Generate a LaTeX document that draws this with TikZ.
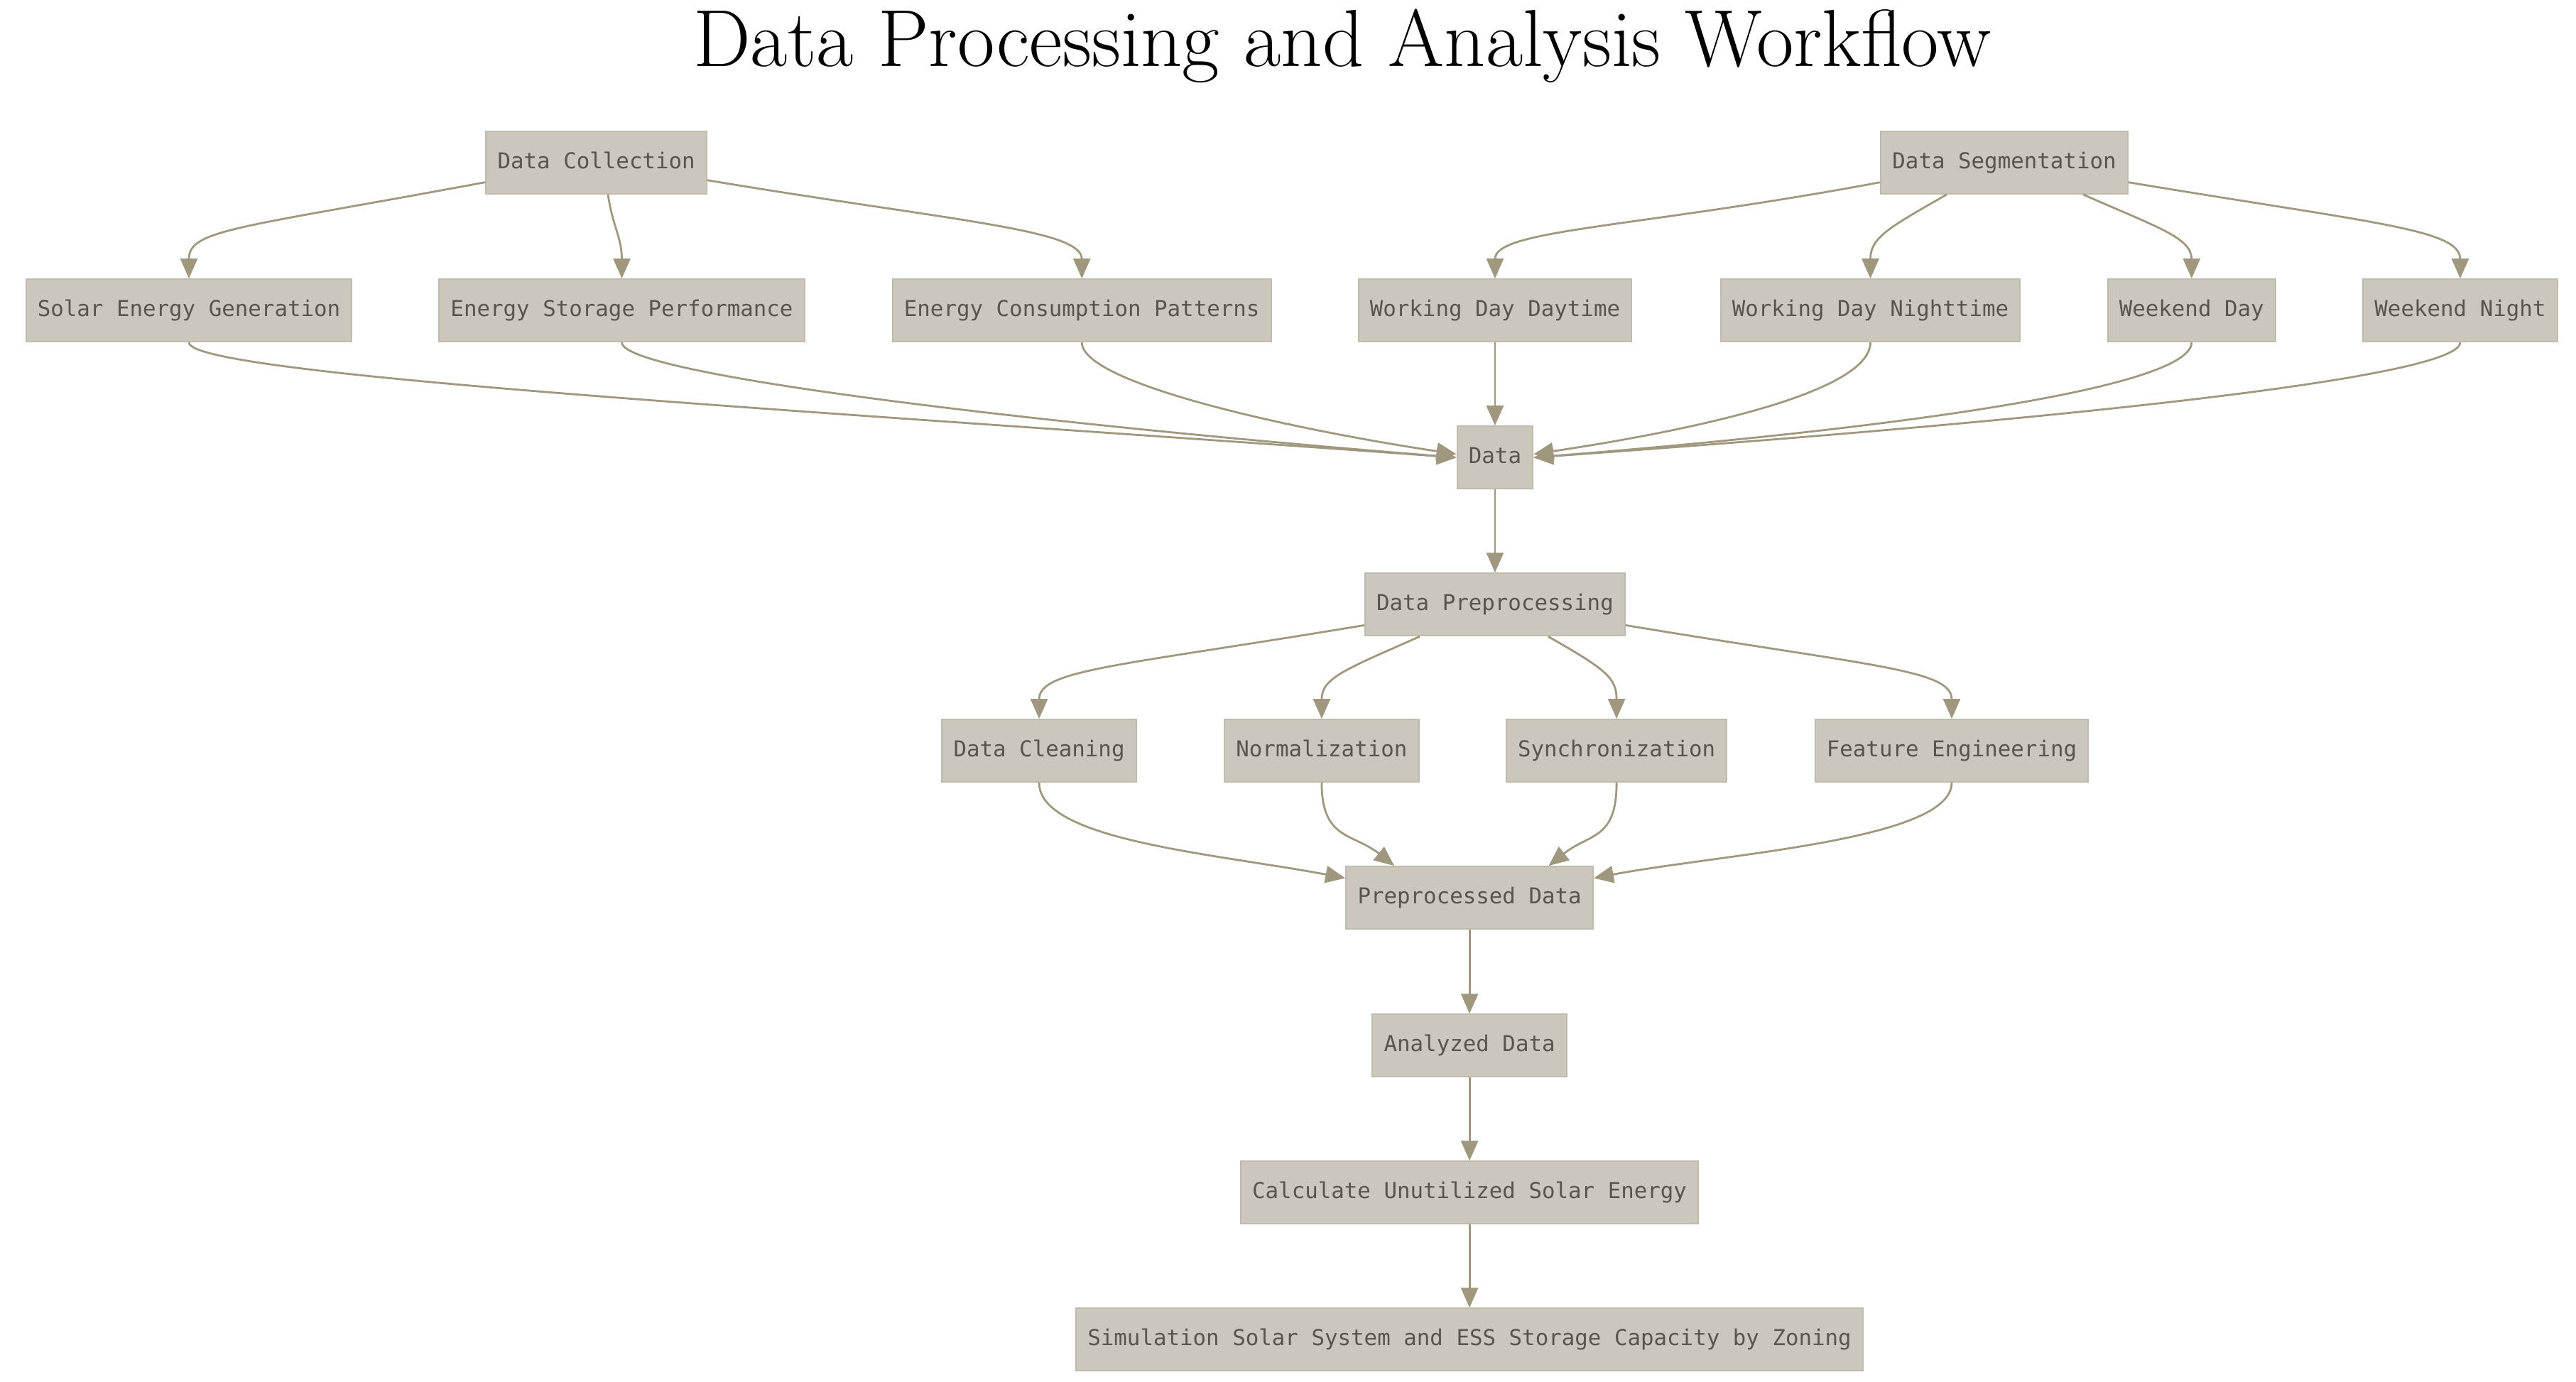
\documentclass[tikz,border=0pt]{standalone}
\usepackage{fontspec}
\newfontfamily\monofont{DejaVu Sans Mono}
\usetikzlibrary{arrows.meta}
\definecolor{boxfill}{HTML}{CCC7BC}
\definecolor{boxline}{HTML}{C0BAAD}
\definecolor{boxtext}{HTML}{5A554B}
\definecolor{edgecol}{HTML}{A0977F}
\tikzset{
  box/.style={rectangle, fill=boxfill, draw=boxline, line width=0.5pt,
    minimum height=22pt, inner xsep=4.05pt, inner ysep=0pt,
    text height=5.6pt, text depth=1.6pt, text=boxtext,
    font=\monofont\fontsize{7.7}{9}\selectfont},
  flow/.style={draw=edgecol, line width=0.7pt, -{Triangle[length=7pt,width=6pt]}},
  titlestyle/.style={font=\fontsize{28.5}{32}\selectfont, text=black, inner sep=0pt}
}
\begin{document}
\begin{tikzpicture}[x=0.5783pt,y=0.5783pt]
\useasboundingbox (0,0) rectangle (1568,-841);
\node[titlestyle] (title) at (817,-28) {Data Processing and Analysis Workflow};

% row 1
\node[box] (dc) at (363,-99) {Data Collection};
\node[box] (ds) at (1220,-99) {Data Segmentation};
% row 2
\node[box] (seg) at (115,-189) {Solar Energy Generation};
\node[box] (esp) at (378.5,-189) {Energy Storage Performance};
\node[box] (ecp) at (658.5,-189) {Energy Consumption Patterns};
\node[box] (wdd) at (910,-189) {Working Day Daytime};
\node[box] (wdn) at (1138.5,-189) {Working Day Nighttime};
\node[box] (wd) at (1334,-189) {Weekend Day};
\node[box] (wn) at (1497.5,-189) {Weekend Night};
% data
\node[box] (data) at (910,-278.5) {Data};
\node[box] (dp) at (910,-368) {Data Preprocessing};
% row 4
\node[box] (dcl) at (632.5,-457) {Data Cleaning};
\node[box] (norm) at (804.5,-457) {Normalization};
\node[box] (sync) at (984,-457) {Synchronization};
\node[box] (fe) at (1188,-457) {Feature Engineering};
% lower chain
\node[box] (pp) at (894.5,-546.5) {Preprocessed Data};
\node[box] (ad) at (894.5,-636.5) {Analyzed Data};
\node[box] (cu) at (894.5,-726) {Calculate Unutilized Solar Energy};
\node[box] (sim) at (894.5,-815.5) {Simulation Solar System and ESS Storage Capacity by Zoning};

% Data Collection fan-out
\draw[flow] (dc.190) .. controls +(-150,-28) and +(0,30) .. (seg.north);
\draw[flow] (dc.-70) .. controls +(3,-20) and +(0,25) .. (esp.north);
\draw[flow] (dc.-9) .. controls +(150,-25) and +(0,30) .. (ecp.north);
% Data Segmentation fan-out
\draw[flow] (ds.189) .. controls +(-150,-28) and +(0,30) .. (wdd.north);
\draw[flow] (ds.209) .. controls +(-35,-20) and +(0,25) .. (wdn.north);
\draw[flow] (ds.-22) .. controls +(45,-20) and +(0,25) .. (wd.north);
\draw[flow] (ds.-9) .. controls +(150,-25) and +(0,30) .. (wn.north);
% into Data
\draw[flow] (seg.south) .. controls +(0,-20) and +(-400,29) .. (data.west);
\draw[flow] (esp.south) .. controls +(0,-20) and +(-250,20) .. (data.west);
\draw[flow] (ecp.south) .. controls +(0,-25) and +(-100,15) .. (data.175);
\draw[flow] (wdd.south) -- (data.north);
\draw[flow] (wdn.south) .. controls +(0,-30) and +(100,15) .. (data.5);
\draw[flow] (wd.south) .. controls +(0,-25) and +(250,20) .. (data.east);
\draw[flow] (wn.south) .. controls +(0,-20) and +(350,25) .. (data.east);
\draw[flow] (data.south) -- (dp.north);
% Preprocessing fan-out
\draw[flow] (dp.189) .. controls +(-150,-25) and +(0,30) .. (dcl.north);
\draw[flow] (dp.203) .. controls +(-45,-20) and +(0,25) .. (norm.north);
\draw[flow] (dp.-31) .. controls +(35,-20) and +(0,25) .. (sync.north);
\draw[flow] (dp.-9) .. controls +(150,-25) and +(0,30) .. (fe.north);
% into Preprocessed Data
\draw[flow] (dcl.south) .. controls +(0,-35) and +(-80,15) .. (pp.171);
\draw[flow] (norm.south) .. controls +(0,-35) and +(-25,20) .. (pp.157);
\draw[flow] (sync.south) .. controls +(0,-35) and +(25,20) .. (pp.22);
\draw[flow] (fe.south) .. controls +(0,-35) and +(80,15) .. (pp.9);
% chain
\draw[flow] (pp.south) -- (ad.north);
\draw[flow] (ad.south) -- (cu.north);
\draw[flow] (cu.south) -- (sim.north);
\end{tikzpicture}
\end{document}
